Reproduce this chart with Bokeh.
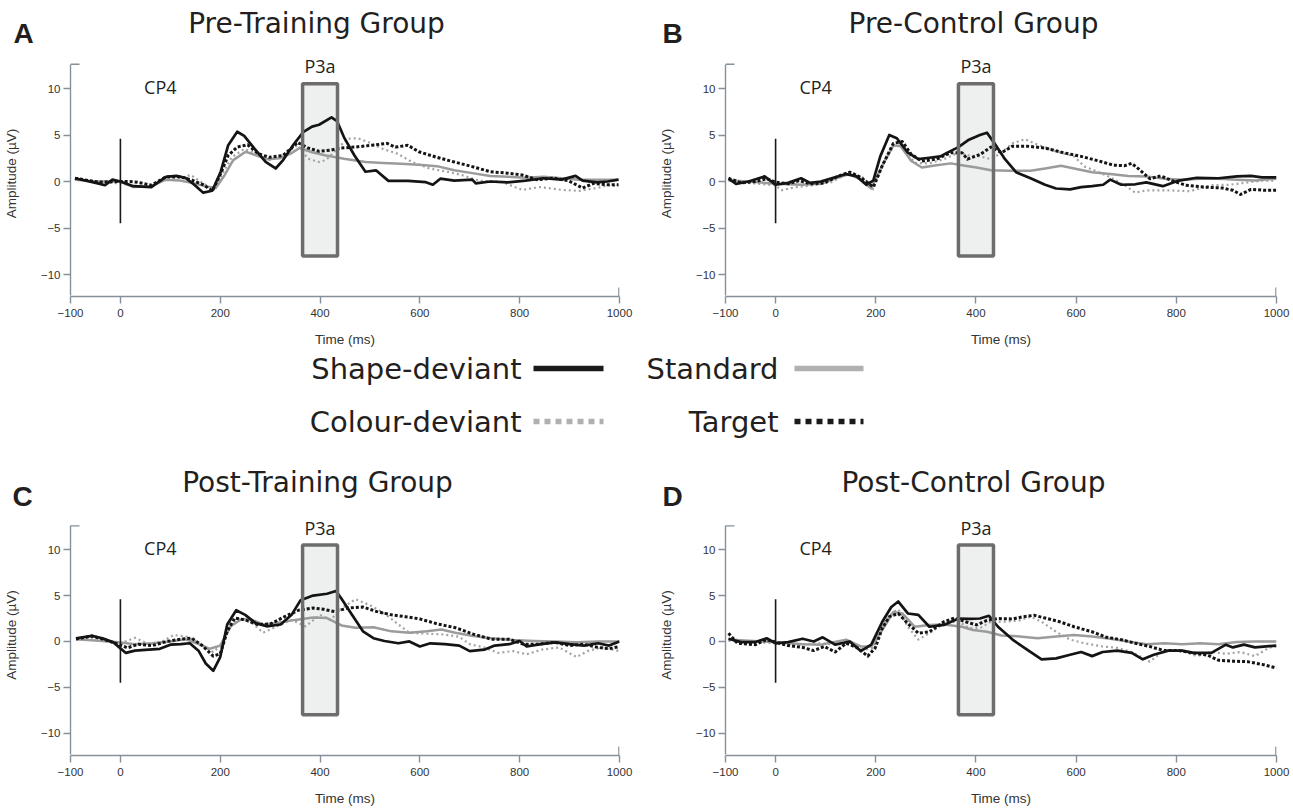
from bokeh.plotting import figure
from bokeh.layouts import column, row
from bokeh.models import FixedTicker, Range1d
from bokeh.embed import file_html
from bokeh.resources import INLINE
from bokeh.core.properties import value

# ---------------- data ----------------
X_TICKS = [-100, 0, 200, 400, 600, 800, 1000]
Y_TICKS = [-10, -5, 0, 5, 10]
X_LIMITS = (-100, 1000)
Y_AXIS_LIMITS = (-12.3, 12.6)
P3A_WINDOW = (365, 435)
P3A_BOX_Y = (-8.0, 10.5)
STIM_LINE_Y = (-4.5, 4.6)
ELECTRODE = "CP4"
COMPONENT = "P3a"
X_LABEL = "Time (ms)"
Y_LABEL = "Amplitude (µV)"
SERIES = ["Shape-deviant", "Standard", "Colour-deviant", "Target"]
TITLES = ["Pre-Training Group", "Pre-Control Group", "Post-Training Group", "Post-Control Group"]
LETTERS = ["A", "B", "C", "D"]

# Panel A (Pre-Training)
A_SHAPE_T = [-91, -45, -31, -16, 0, 26, 62, 91, 112, 130, 148, 166, 184, 201, 216, 234, 248, 269, 291, 311, 326, 348, 366, 384, 398, 423, 434, 448, 469, 491, 512, 537, 576, 612, 626, 641, 669, 705, 712, 741, 776, 812, 848, 884, 912, 926, 955, 976, 998]
A_SHAPE_V = [0.35, -0.2, -0.4, 0.2, 0, -0.5, -0.6, 0.5, 0.6, 0.4, -0.35, -1.2, -1.0, 1.05, 3.9, 5.35, 4.9, 3.5, 2.1, 1.4, 2.3, 4.05, 5.3, 5.9, 6.1, 6.9, 6.5, 4.75, 2.8, 1.05, 1.2, 0.07, 0.07, -0.07, -0.35, 0.3, 0.1, 0.2, -0.2, 0, -0.1, 0.1, 0.35, 0.2, 0.6, 0.1, -0.1, 0, 0.2]
A_STD_T = [-91, -45, 0, 26, 62, 91, 119, 148, 169, 191, 209, 226, 251, 273, 294, 319, 341, 359, 384, 412, 448, 491, 526, 562, 598, 634, 669, 705, 741, 776, 812, 848, 884, 919, 955, 998]
A_STD_V = [0.2, 0, 0, -0.6, -0.5, 0.2, 0.1, -0.2, -0.5, -0.7, 0.7, 2.3, 3.2, 2.8, 2.4, 2.5, 3.0, 3.6, 3.15, 2.8, 2.45, 2.1, 2.0, 1.9, 1.8, 1.65, 1.2, 0.9, 0.6, 0.5, 0.4, 0.5, 0.35, 0.2, 0.2, 0.2]
A_COL_T = [-91, -45, 0, 26, 62, 91, 119, 141, 166, 187, 205, 223, 248, 273, 298, 326, 355, 376, 398, 412, 434, 455, 476, 498, 526, 555, 584, 619, 655, 684, 719, 762, 805, 841, 884, 919, 955, 976, 998]
A_COL_V = [0.3, -0.07, -0.2, -0.5, -0.35, 0.35, 0.35, 0.7, -0.2, -0.9, 0.9, 2.6, 3.5, 3.0, 2.3, 2.8, 3.9, 2.45, 2.1, 2.3, 3.5, 4.6, 4.65, 4.2, 3.5, 3.0, 2.1, 1.4, 1.05, 0.7, 0.07, 0, -0.9, -0.6, -0.9, -1.0, -0.7, -0.4, -0.5]
A_TGT_T = [-91, -45, 0, 19, 34, 62, 91, 119, 141, 166, 184, 198, 216, 234, 255, 276, 298, 326, 355, 376, 398, 419, 441, 469, 505, 534, 551, 576, 598, 634, 669, 705, 741, 776, 805, 834, 869, 898, 926, 948, 976, 998]
A_TGT_V = [0.35, -0.07, 0, 0, -0.07, -0.4, 0.5, 0.5, 0.2, -0.35, -1.0, 0.5, 2.8, 3.7, 3.95, 3.0, 2.6, 2.8, 4.2, 3.6, 3.25, 3.35, 3.6, 3.7, 3.9, 4.1, 3.7, 3.9, 3.2, 2.6, 2.1, 1.6, 1.05, 0.9, 0.7, 0.2, 0.35, 0.07, -0.7, -0.2, -0.35, -0.35]

# Panel B (Pre-Control)
B_SHAPE_T = [-94, -79, -54, -22, 0, 25, 51, 69, 90, 112, 141, 162, 181, 195, 209, 227, 242, 264, 285, 307, 329, 343, 365, 386, 408, 422, 437, 458, 480, 509, 538, 560, 588, 610, 632, 654, 668, 690, 718, 740, 773, 805, 841, 884, 921, 949, 971, 1000]
B_SHAPE_V = [0.3, -0.25, 0, 0.55, -0.35, -0.15, 0.35, -0.15, 0, 0.35, 0.8, 0.55, -0.35, 0.1, 2.7, 5.0, 4.65, 3.1, 2.4, 2.55, 2.7, 3.1, 3.7, 4.5, 5.0, 5.25, 4.1, 2.4, 1.0, 0.35, -0.35, -0.75, -0.85, -0.6, -0.5, -0.35, 0.2, -0.35, -0.3, -0.1, -0.5, 0.1, 0.4, 0.35, 0.55, 0.6, 0.45, 0.45]
B_STD_T = [-94, -54, 0, 54, 90, 126, 148, 170, 191, 213, 235, 249, 271, 292, 321, 350, 372, 401, 430, 466, 509, 538, 570, 596, 632, 668, 704, 740, 776, 812, 848, 884, 921, 957, 1000]
B_STD_V = [0.1, 0, -0.25, -0.35, -0.25, 0.45, 0.8, 0.2, -0.75, 1.7, 3.85, 3.85, 2.2, 1.5, 1.75, 1.95, 1.75, 1.5, 1.2, 1.15, 1.15, 1.4, 1.7, 1.4, 1.0, 0.8, 0.6, 0.55, 0.3, 0.2, 0.3, 0.3, 0.2, 0.1, 0.3]
B_COL_T = [-94, -54, 0, 11, 40, 76, 112, 148, 177, 195, 217, 238, 256, 278, 307, 336, 365, 386, 408, 430, 451, 473, 498, 523, 560, 596, 617, 639, 668, 697, 718, 740, 784, 827, 870, 906, 935, 971, 1000]
B_COL_V = [0.2, -0.15, -0.4, -0.95, -0.6, -0.4, -0.07, 1.0, 0.35, -0.85, 2.2, 3.95, 3.6, 2.0, 1.95, 2.4, 3.1, 2.8, 2.7, 2.4, 3.1, 4.1, 4.55, 3.95, 3.25, 2.7, 1.6, 1.15, 0.45, -0.4, -1.2, -0.95, -0.95, -1.05, -0.4, -0.35, -0.15, 0.1, 0.1]
B_TGT_T = [-94, -69, -40, -18, 0, 25, 47, 69, 97, 126, 148, 170, 195, 213, 235, 253, 271, 292, 321, 350, 372, 383, 408, 430, 451, 473, 502, 538, 574, 610, 646, 675, 697, 711, 726, 747, 769, 791, 819, 856, 892, 913, 928, 949, 978, 1000]
B_TGT_V = [0.35, -0.15, 0, 0.3, -0.07, -0.25, 0.1, -0.25, -0.15, 0.6, 1.0, 0.45, -0.6, 1.7, 4.1, 4.3, 2.9, 2.2, 2.4, 3.1, 3.1, 2.4, 2.9, 3.7, 3.1, 3.8, 3.8, 3.6, 3.1, 2.7, 2.2, 1.75, 1.7, 1.95, 1.3, 0.3, 0.6, 0.1, -0.4, -0.6, -0.7, -0.95, -1.4, -0.85, -0.95, -0.95]

# Panel C (Post-Training)
C_SHAPE_T = [-89, -57, -36, -14, 11, 29, 57, 79, 100, 121, 139, 157, 171, 186, 200, 214, 232, 250, 271, 293, 321, 343, 361, 386, 414, 432, 443, 464, 486, 507, 529, 557, 579, 600, 621, 650, 679, 700, 729, 750, 779, 800, 814, 843, 871, 900, 929, 957, 979, 1000]
C_SHAPE_V = [0.35, 0.6, 0.35, -0.1, -1.25, -1.0, -0.9, -0.8, -0.35, -0.3, -0.2, -1.05, -2.4, -3.2, -1.7, 1.85, 3.4, 2.9, 2.0, 1.65, 1.85, 2.9, 4.5, 5.0, 5.2, 5.5, 4.65, 2.9, 1.1, 0.35, 0.05, -0.2, 0, -0.55, -0.2, -0.3, -0.45, -1.05, -0.9, -0.45, -0.3, 0.05, -0.55, -0.3, -0.1, -0.3, -0.45, -0.2, -0.45, 0]
C_STD_T = [-89, -43, -4, 29, 64, 100, 129, 157, 179, 200, 221, 243, 264, 286, 314, 350, 386, 414, 443, 471, 507, 543, 579, 614, 643, 671, 707, 743, 786, 829, 871, 914, 957, 1000]
C_STD_V = [0.25, 0.07, -0.1, -0.3, -0.2, 0, 0.25, -0.3, -0.8, -0.45, 1.65, 2.45, 2.35, 1.85, 2.0, 2.35, 2.6, 2.55, 1.75, 1.5, 1.55, 1.1, 0.95, 1.1, 1.3, 0.95, 0.6, 0.35, 0.15, 0.05, 0, -0.1, 0, 0]
C_COL_T = [-89, -57, -4, 29, 57, 86, 107, 136, 164, 186, 204, 221, 243, 264, 286, 314, 343, 371, 400, 421, 443, 471, 500, 529, 557, 579, 614, 650, 679, 700, 729, 757, 786, 814, 843, 879, 914, 936, 964, 1000]
C_COL_V = [0.25, 0.4, -0.3, 0.4, -0.3, 0.07, 0.7, 0.5, -0.45, -1.15, -0.3, 2.0, 2.55, 2.0, 0.95, 1.65, 2.35, 1.65, 2.9, 2.35, 3.6, 4.6, 3.95, 3.05, 1.85, 0.95, 0.85, 0.75, 0.5, -0.3, -0.65, -1.25, -1.05, -1.4, -0.9, -0.65, -1.7, -1.05, -0.65, -1.05]
C_TGT_T = [-89, -57, -29, -4, 14, 36, 64, 93, 121, 143, 164, 186, 200, 214, 229, 250, 275, 300, 329, 357, 386, 407, 429, 457, 486, 514, 543, 571, 600, 636, 671, 707, 743, 779, 807, 836, 871, 900, 929, 957, 979, 1000]
C_TGT_V = [0.25, 0.6, 0.15, -0.3, -0.7, -0.3, -0.45, 0, 0.25, 0.35, -0.45, -1.6, -1.35, 1.1, 2.55, 2.35, 1.85, 1.9, 2.7, 3.4, 3.65, 3.5, 3.25, 3.65, 3.75, 3.25, 2.9, 2.7, 2.45, 1.9, 1.5, 0.8, 0.25, 0.25, -0.3, -0.3, -0.1, -0.45, -0.3, -0.65, -0.8, -0.55]

# Panel D (Post-Control)
D_SHAPE_T = [-94, -69, -40, -18, 0, 25, 54, 76, 94, 119, 148, 170, 191, 213, 231, 245, 264, 285, 307, 336, 365, 386, 408, 426, 444, 473, 502, 531, 560, 588, 610, 632, 653, 682, 711, 733, 755, 784, 812, 834, 870, 899, 913, 935, 957, 1000]
D_SHAPE_V = [0.3, -0.07, -0.07, 0.35, -0.2, -0.07, 0.3, 0, 0.45, -0.35, 0, -1.05, -0.35, 2.15, 3.75, 4.35, 3.05, 2.9, 1.6, 1.8, 2.5, 2.45, 2.5, 2.8, 1.6, 0.2, -0.9, -1.95, -1.85, -1.45, -1.15, -1.6, -1.15, -1.0, -1.25, -1.95, -1.45, -1.0, -1.0, -1.25, -1.25, -0.35, -0.65, -0.35, -0.65, -0.45]
D_STD_T = [-94, -54, 0, 54, 90, 141, 170, 191, 213, 235, 253, 278, 307, 336, 372, 394, 422, 451, 487, 523, 560, 596, 632, 668, 704, 740, 776, 812, 848, 884, 921, 957, 1000]
D_STD_V = [0.2, 0.07, -0.07, -0.3, -0.35, 0.2, -0.55, -0.55, 1.25, 3.2, 3.05, 1.6, 1.8, 1.85, 1.6, 1.25, 1.05, 0.65, 0.55, 0.35, 0.55, 0.7, 0.55, 0.3, 0, -0.3, -0.2, -0.3, -0.2, -0.3, -0.07, 0, 0]
D_COL_T = [-94, -54, 0, 25, 54, 90, 119, 148, 177, 195, 213, 235, 245, 264, 285, 307, 336, 365, 386, 408, 430, 458, 487, 509, 531, 560, 588, 617, 653, 682, 711, 747, 776, 812, 841, 870, 899, 928, 957, 986, 1000]
D_COL_V = [0.07, -0.07, -0.2, -0.35, -0.3, -0.2, -0.35, -0.07, -0.9, -0.7, 1.8, 3.2, 3.5, 1.6, 0.2, 0.9, 1.95, 2.2, 1.45, 1.45, 2.15, 2.15, 2.3, 2.7, 2.15, 1.05, 0.2, -0.2, -0.55, -0.7, -1.15, -2.2, -1.0, -1.05, -1.6, -1.15, -1.35, -1.15, -1.6, -0.65, -0.55]
D_TGT_T = [-94, -76, -40, -18, 0, 25, 54, 76, 97, 119, 141, 162, 184, 199, 213, 227, 245, 264, 285, 307, 336, 357, 379, 401, 422, 444, 473, 495, 516, 538, 567, 596, 632, 661, 690, 718, 747, 776, 805, 834, 863, 884, 913, 942, 971, 1000]
D_TGT_V = [0.9, -0.2, -0.35, 0.2, -0.07, -0.45, -0.65, -1.0, -0.55, -1.15, -0.2, -0.65, -1.6, -0.7, 1.45, 2.7, 3.05, 1.95, 0.9, 1.05, 2.15, 2.55, 2.15, 1.8, 2.3, 2.5, 2.45, 2.7, 2.85, 2.55, 2.15, 1.6, 1.05, 0.45, 0.2, -0.2, -0.55, -1.0, -1.0, -1.25, -1.5, -2.05, -2.15, -2.2, -2.5, -2.9]

PANEL_DATA = [
    {"Shape-deviant": (A_SHAPE_T, A_SHAPE_V), "Standard": (A_STD_T, A_STD_V),
     "Colour-deviant": (A_COL_T, A_COL_V), "Target": (A_TGT_T, A_TGT_V)},
    {"Shape-deviant": (B_SHAPE_T, B_SHAPE_V), "Standard": (B_STD_T, B_STD_V),
     "Colour-deviant": (B_COL_T, B_COL_V), "Target": (B_TGT_T, B_TGT_V)},
    {"Shape-deviant": (C_SHAPE_T, C_SHAPE_V), "Standard": (C_STD_T, C_STD_V),
     "Colour-deviant": (C_COL_T, C_COL_V), "Target": (C_TGT_T, C_TGT_V)},
    {"Shape-deviant": (D_SHAPE_T, D_SHAPE_V), "Standard": (D_STD_T, D_STD_V),
     "Colour-deviant": (D_COL_T, D_COL_V), "Target": (D_TGT_T, D_TGT_V)},
]

# ---------------- styles ----------------
STYLE = {
    "Shape-deviant": dict(color="#141414", width=2.7, dash="solid"),
    "Standard": dict(color="#9b9b9b", width=2.5, dash="solid"),
    "Colour-deviant": dict(color="#a3a3a3", width=2.2, dash="2 3"),
    "Target": dict(color="#141414", width=3.0, dash="3 2"),
}
DRAW_ORDER = ["Colour-deviant", "Standard", "Target", "Shape-deviant"]
AXIS_COLOR = "#86909a"
TEXT_COLOR = "#231f20"
TICK_COLOR = "#333333"

# ---------------- page geometry (pixels) ----------------
PAGE_W, PAGE_H = 1293, 808
LEFT_W = 647
RIGHT_W = PAGE_W - LEFT_W
HEAD_H = 50            # strip with the two upper titles
ROW1_H = 300           # upper plots
MID_H = 164            # legend + lower titles
ROW2_H = PAGE_H - HEAD_H - ROW1_H - MID_H


def make_panel(idx, width, height, b_left, b_right, b_bottom, fig_top, zero_page, ppu):
    frame_w = width - b_left - b_right
    frame_bottom = fig_top + height - b_bottom
    ms_per_px = (X_LIMITS[1] - X_LIMITS[0]) / frame_w

    def py2v(py):
        return (zero_page - py) / ppu

    y_top = py2v(fig_top)
    y_bot = py2v(frame_bottom)

    p = figure(width=width, height=height, output_backend="svg", toolbar_location=None,
               x_range=Range1d(*X_LIMITS), y_range=Range1d(y_bot, y_top),
               min_border_left=b_left, min_border_right=b_right,
               min_border_top=0, min_border_bottom=b_bottom)
    p.outline_line_color = None
    p.grid.visible = False
    p.background_fill_color = "white"
    p.border_fill_color = "white"

    for ax in (p.xaxis[0], p.yaxis[0]):
        ax.axis_line_color = AXIS_COLOR
        ax.axis_line_width = 1.4
        ax.major_tick_line_color = AXIS_COLOR
        ax.major_tick_line_width = 1.4
        ax.major_tick_out = 7
        ax.major_tick_in = 0
        ax.minor_tick_line_color = None
        ax.major_label_text_font = "Liberation Sans"
        ax.major_label_text_font_size = "11.5px"
        ax.major_label_text_color = TICK_COLOR
        ax.axis_label_text_font = "Liberation Sans"
        ax.axis_label_text_font_size = "13.5px"
        ax.axis_label_text_font_style = "normal"
        ax.axis_label_text_color = TICK_COLOR
    p.xaxis.ticker = FixedTicker(ticks=X_TICKS)
    p.yaxis.ticker = FixedTicker(ticks=Y_TICKS)
    p.xaxis.bounds = X_LIMITS
    p.yaxis.bounds = Y_AXIS_LIMITS
    p.xaxis.axis_label = X_LABEL
    p.yaxis.axis_label = Y_LABEL
    p.xaxis.major_label_standoff = 5
    p.yaxis.major_label_standoff = 3
    p.xaxis.axis_label_standoff = 12
    p.yaxis.axis_label_standoff = 19

    # axis end caps
    p.segment(x0=[X_LIMITS[0]], y0=[Y_AXIS_LIMITS[1]], x1=[X_LIMITS[0] + 9 * ms_per_px],
              y1=[Y_AXIS_LIMITS[1]], line_color=AXIS_COLOR, line_width=1.4)
    p.segment(x0=[X_LIMITS[1] - 0.6 * ms_per_px], y0=[y_bot], x1=[X_LIMITS[1] - 0.6 * ms_per_px],
              y1=[y_bot + 9 / ppu], line_color=AXIS_COLOR, line_width=1.4)

    # P3a window (fill under the curves, outline over them)
    p.quad(left=[P3A_WINDOW[0]], right=[P3A_WINDOW[1]], bottom=[P3A_BOX_Y[0]], top=[P3A_BOX_Y[1]],
           fill_color="#eef0ef", line_color=None)

    data = PANEL_DATA[idx]
    for name in DRAW_ORDER:
        t, v = data[name]
        st = STYLE[name]
        p.line(t, v, line_color=st["color"], line_width=st["width"], line_dash=st["dash"],
               line_join="round")

    p.quad(left=[P3A_WINDOW[0]], right=[P3A_WINDOW[1]], bottom=[P3A_BOX_Y[0]], top=[P3A_BOX_Y[1]],
           fill_color=None, line_color="#6d6d6d", line_width=3.5)

    # stimulus onset line
    p.segment(x0=[0], y0=[STIM_LINE_Y[0]], x1=[0], y1=[STIM_LINE_Y[1]], line_color="#1a1a1a",
              line_width=1.6)

    # electrode and component labels
    p.text(x=[80], y=[10.2], text=[ELECTRODE],
           text_font=value("Open Sans"), text_font_size="18px", text_align="center",
           text_baseline="middle", text_color=TEXT_COLOR)
    p.text(x=[sum(P3A_WINDOW) / 2], y=[12.4], text=[COMPONENT],
           text_font=value("Open Sans"), text_font_size="18px", text_align="center",
           text_baseline="middle", text_color=TEXT_COLOR)
    return p


ROW1_TOP = HEAD_H
ROW2_TOP = HEAD_H + ROW1_H + MID_H
pA = make_panel(0, LEFT_W, ROW1_H, 70, 28, 54, ROW1_TOP, 181, 9.3)
pB = make_panel(1, RIGHT_W, ROW1_H, 78, 17, 54, ROW1_TOP, 181, 9.3)
pC = make_panel(2, LEFT_W, ROW2_H, 70, 28, PAGE_H - 757, ROW2_TOP, 642, 9.25)
pD = make_panel(3, RIGHT_W, ROW2_H, 78, 17, PAGE_H - 757, ROW2_TOP, 642, 9.25)


def text_strip(height):
    s = figure(width=PAGE_W, height=height, output_backend="svg", toolbar_location=None,
               x_range=Range1d(0, PAGE_W), y_range=Range1d(height, 0),
               x_axis_type=None, y_axis_type=None, min_border=0)
    s.outline_line_color = None
    s.grid.visible = False
    return s


def add_title(s, x, y, title, letter, lx, ly):
    s.text(x=[x], y=[y], text=[title], text_font=value("DejaVu Sans"),
           text_font_size="28px", text_align="center", text_baseline="middle",
           text_color=TEXT_COLOR)
    s.text(x=[lx], y=[ly], text=[letter], text_font=value("Liberation Sans"),
           text_font_style="bold", text_font_size="28px", text_align="center",
           text_baseline="middle", text_color=TEXT_COLOR)


# upper titles strip
head = text_strip(HEAD_H)
add_title(head, 316, 23, TITLES[0], LETTERS[0], 23, 33)
add_title(head, 973, 23, TITLES[1], LETTERS[1], 672, 33)

# legend + lower titles strip
mid = text_strip(MID_H)
LEG_ROWS = [["Shape-deviant", "Standard"], ["Colour-deviant", "Target"]]
LEG_ROW_Y = [18, 71]
LEG_TEXT_RIGHT = [521, 778]
LEG_LINE_X = [(533, 603), (794, 863)]
for r, names in enumerate(LEG_ROWS):
    for c, name in enumerate(names):
        st = STYLE[name]
        mid.text(x=[LEG_TEXT_RIGHT[c]], y=[LEG_ROW_Y[r]], text=[name],
                 text_font=value("DejaVu Sans"), text_font_size="29px", text_align="right",
                 text_baseline="middle", text_color=TEXT_COLOR)
        dash = "solid" if st["dash"] == "solid" else "6 5"
        color = "#1a1a1a" if st["color"] == "#141414" else "#b0b0b0"
        mid.segment(x0=[LEG_LINE_X[c][0]], y0=[LEG_ROW_Y[r]], x1=[LEG_LINE_X[c][1]],
                    y1=[LEG_ROW_Y[r]], line_color=color, line_width=5.5, line_dash=dash)
add_title(mid, 317, 132, TITLES[2], LETTERS[2], 22, 146)
add_title(mid, 973, 132, TITLES[3], LETTERS[3], 672, 146)

layout = column(head, row(pA, pB, spacing=0), mid, row(pC, pD, spacing=0), spacing=0)

open("out.html", "w").write(file_html(layout, INLINE))
